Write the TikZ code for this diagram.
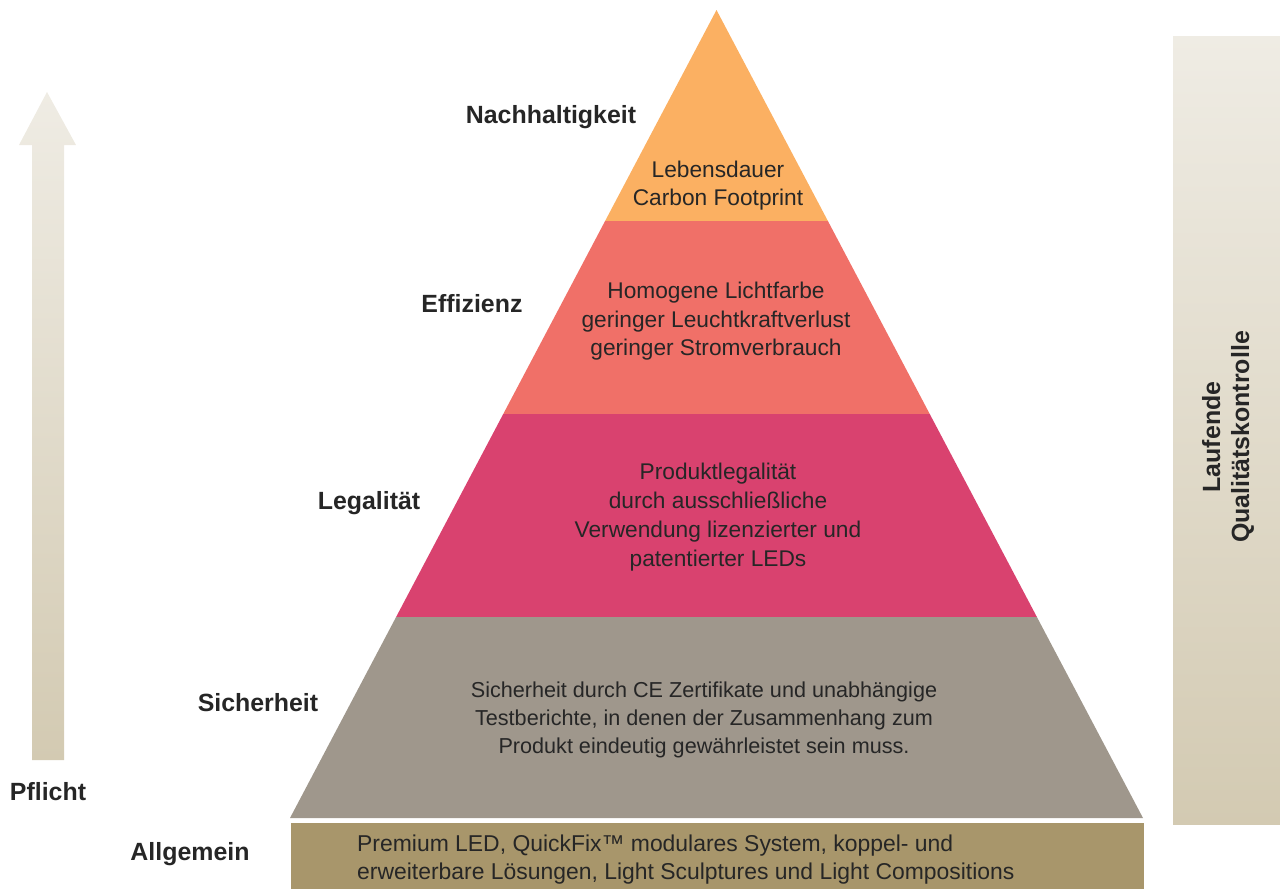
\documentclass[tikz,border=0pt]{standalone}
\usepackage{fontspec}
\setmainfont{Liberation Sans}
\definecolor{txt}{HTML}{262626}
\definecolor{corange}{HTML}{FBB062}
\definecolor{csalmon}{HTML}{F07068}
\definecolor{cpink}{HTML}{D9426F}
\definecolor{cgray}{HTML}{9F978C}
\definecolor{cbase}{HTML}{A8966B}
\definecolor{ctop}{HTML}{EFECE4}
\definecolor{cbot}{HTML}{D3CAB2}
\tikzset{
  body/.style={text=txt, align=center, font=\fontsize{22.8}{28.5}\selectfont, inner sep=0pt},
  lbl/.style={text=txt, font=\fontsize{25}{29}\bfseries\selectfont, inner sep=0pt},
}
\begin{document}
\begin{tikzpicture}[x=1bp,y=-1bp]
\useasboundingbox (0,0) rectangle (1280,889);
% pyramid bands
\fill[corange] (716.5,10) -- (827.9,221) -- (605.1,221) -- cycle;
\fill[csalmon] (605.1,221) -- (827.9,221) -- (929.75,414) -- (503.25,414) -- cycle;
\fill[cpink] (503.25,414) -- (929.75,414) -- (1036.9,617) -- (396.1,617) -- cycle;
\fill[cgray] (396.1,617) -- (1036.9,617) -- (1143,818) -- (290,818) -- cycle;
\fill[cbase] (291,823) rectangle (1144,889);
% left arrow
\shade[top color=ctop, bottom color=cbot] (47,92) -- (76,145) -- (64,145) -- (64,760) -- (32,760) -- (32,145) -- (19,145) -- cycle;
% right bar
\shade[top color=ctop, bottom color=cbot] (1173,36) rectangle (1280,824);
% texts in bands
\node[body, font=\fontsize{22.8}{28}\selectfont] (t1) at (718,185.5) {Lebensdauer\\Carbon Footprint};
\node[body] (t2) at (716,321.5) {Homogene Lichtfarbe\\geringer Leuchtkraftverlust\\geringer Stromverbrauch};
\node[body, font=\fontsize{22.8}{29}\selectfont] (t3) at (718,517) {Produktlegalität\\durch ausschließliche\\Verwendung lizenzierter und\\patentierter LEDs};
\node[body, font=\fontsize{21.7}{28.5}\selectfont] (t4) at (704,720) {Sicherheit durch CE Zertifikate und unabhängige\\Testberichte, in denen der Zusammenhang zum\\Produkt eindeutig gewährleistet sein muss.};
\node[body, font=\fontsize{23}{27.5}\selectfont, align=left, anchor=west] (t5) at (357,859.5) {Premium LED, QuickFix™ modulares System, koppel- und\\erweiterbare Lösungen, Light Sculptures und Light Compositions};
% labels
\node[lbl] (l1) at (551,117.5) {Nachhaltigkeit};
\node[lbl] (l2) at (472,304) {Effizienz};
\node[lbl] (l3) at (369,503.5) {Legalität};
\node[lbl] (l4) at (258,702.5) {Sicherheit};
\node[lbl] (l5) at (48,791.5) {Pflicht};
\node[lbl] (l6) at (190,854.5) {Allgemein};
\node[lbl, align=center, rotate=90] (l7) at (1228,437) {Laufende\\Qualitätskontrolle};
\end{tikzpicture}
\end{document}
